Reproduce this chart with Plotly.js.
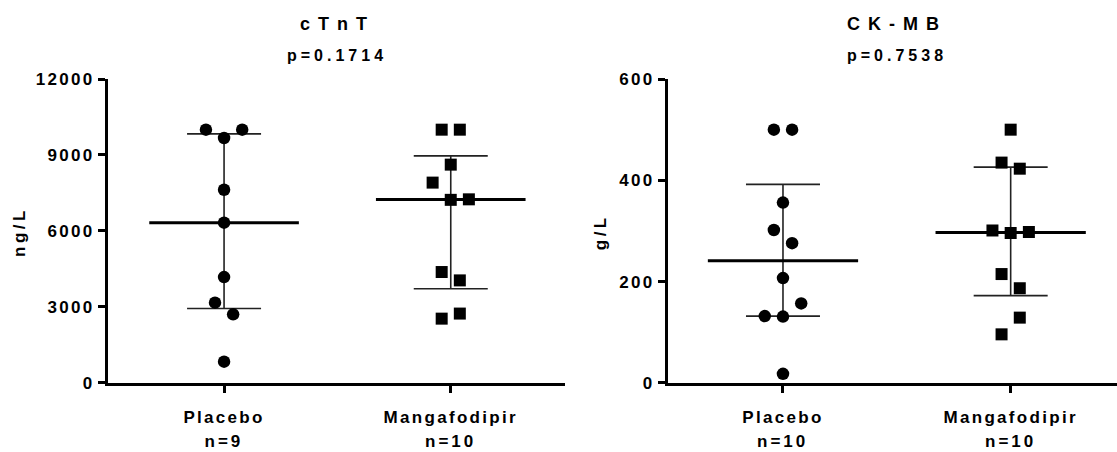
<!DOCTYPE html>
<html>
<head>
<meta charset="utf-8">
<script src="https://cdn.plot.ly/plotly-3.0.1.min.js"></script>
<style>
html,body{margin:0;padding:0;background:#fff;}
#chart{width:1117px;height:452px;}
#chart .xtick text, #chart .x2tick text, #chart .ytick text, #chart .y2tick text{letter-spacing:2.3px;}
</style>
</head>
<body>
<div id="chart"></div>
<script>
// ---- data ----
const categories = ['Placebo', 'Mangafodipir'];
const cTnT_n = ['n=9', 'n=10'];
const ckmb_n = ['n=10', 'n=10'];

const cTnT_placebo = [10000, 10000, 9670, 7630, 6330, 4180, 3170, 2710, 840];
const cTnT_placebo_jitter = [-1, 1, 0, 0, 0, 0, -0.5, 0.5, 0];
const cTnT_mangafodipir = [10000, 10000, 8620, 7910, 7230, 7250, 4380, 4050, 2740, 2540];
const cTnT_mangafodipir_jitter = [-0.5, 0.5, 0, -1, 0, 1, -0.5, 0.5, 0.5, -0.5];
const cTnT_median = [6330, 7240];
const cTnT_q1 = [2940, 3720];
const cTnT_q3 = [9835, 8965];

const ckmb_placebo = [500, 500, 356, 302, 276, 207, 157, 132, 131, 18];
const ckmb_placebo_jitter = [-0.5, 0.5, 0, -0.5, 0.5, 0, 1, -1, 0, 0];
const ckmb_mangafodipir = [500, 435, 423, 301, 296, 298, 215, 187, 129, 96];
const ckmb_mangafodipir_jitter = [0, -0.5, 0.5, -1, 0, 1, -0.5, 0.5, 0.5, -0.5];
const ckmb_median = [241.5, 297];
const ckmb_q1 = [132, 172.5];
const ckmb_q3 = [392, 426];

const titles = ['cTnT', 'CK-MB'];
const pvalues = ['p=0.1714', 'p=0.7538'];
const yTitles = ['ng/L', 'g/L'];

// ---- helpers ----
const SLOT = 0.08;      // jitter slot width in category units
const HALF_MED = 0.33;  // half width of median line
const FONT = 'Liberation Sans, Arial, sans-serif';

function panelTraces(xa, ya, placebo, pj, mang, mj, med, q1, q3) {
  const tr = [];
  tr.push({
    type: 'scatter', mode: 'markers', x: [0, 1], y: med, xaxis: xa, yaxis: ya,
    marker: {size: 1, color: 'rgba(0,0,0,0)'},
    error_y: {type: 'data', symmetric: false,
      array: med.map((m, i) => q3[i] - m),
      arrayminus: med.map((m, i) => m - q1[i]),
      width: 37, thickness: 1.6, color: '#222'},
    hoverinfo: 'skip', showlegend: false
  });
  const mx = [], my = [];
  med.forEach((m, i) => { mx.push(i - HALF_MED, i + HALF_MED, null); my.push(m, m, null); });
  tr.push({type: 'scatter', mode: 'lines', x: mx, y: my, xaxis: xa, yaxis: ya,
    line: {color: '#000', width: 3}, hoverinfo: 'skip', showlegend: false});
  tr.push({type: 'scatter', mode: 'markers', xaxis: xa, yaxis: ya,
    x: pj.map(j => 0 + j * SLOT), y: placebo,
    marker: {symbol: 'circle', size: 12.5, color: '#000'}, showlegend: false});
  tr.push({type: 'scatter', mode: 'markers', xaxis: xa, yaxis: ya,
    x: mj.map(j => 1 + j * SLOT), y: mang,
    marker: {symbol: 'square', size: 12, color: '#000'}, showlegend: false});
  return tr;
}

const data = [].concat(
  panelTraces('x', 'y', cTnT_placebo, cTnT_placebo_jitter, cTnT_mangafodipir, cTnT_mangafodipir_jitter, cTnT_median, cTnT_q1, cTnT_q3),
  panelTraces('x2', 'y2', ckmb_placebo, ckmb_placebo_jitter, ckmb_mangafodipir, ckmb_mangafodipir_jitter, ckmb_median, ckmb_q1, ckmb_q3)
);

const tickFont = {family: FONT, size: 17, color: '#000', weight: 'bold'};
const yDomain = [0.1527, 0.8252];

function xAxis(domain, range, anchor) {
  return {domain: domain, range: range, anchor: anchor,
    tickvals: [0, 1], ticktext: categories,
    showline: true, linewidth: 3, linecolor: '#000', ticks: 'outside', ticklen: 7, tickwidth: 3,
    tickcolor: '#000', showgrid: false, zeroline: false, tickfont: tickFont, fixedrange: true,
    ticklabelstandoff: 10};
}
function yAxis(range, dtick, anchor) {
  return {domain: yDomain, range: range, anchor: anchor, dtick: dtick, tick0: 0, tickformat: 'd',
    showline: true, linewidth: 3, linecolor: '#000', ticks: 'outside', ticklen: 7, tickwidth: 3,
    tickcolor: '#000', showgrid: false, zeroline: false, tickfont: tickFont, fixedrange: true};
}

const bold = (s) => ({family: FONT, size: s, color: '#000', weight: 'bold'});
const annotations = [];
const xrefs = ['x', 'x2'];
const nSets = [cTnT_n, ckmb_n];
[0, 1].forEach(p => {
  annotations.push({xref: xrefs[p], yref: 'paper', x: 0.5, y: 1 - 24 / 452, text: titles[p], showarrow: false, font: bold(18), xanchor: 'center', yanchor: 'middle', name: 'title'});
  annotations.push({xref: xrefs[p], yref: 'paper', x: 0.5, y: 1 - 55 / 452, text: pvalues[p], showarrow: false, font: bold(16), xanchor: 'center', yanchor: 'middle', name: 'p'});
  nSets[p].forEach((n, i) => {
    annotations.push({xref: xrefs[p], yref: 'paper', x: i, y: 1 - 441 / 452, text: n, showarrow: false, font: bold(17), xanchor: 'center', yanchor: 'middle', name: 'n'});
  });
});
annotations.push({xref: 'paper', yref: 'paper', x: 19 / 1117, y: 1 - 232 / 452, text: yTitles[0], textangle: -90, showarrow: false, font: bold(17), xanchor: 'center', yanchor: 'middle', name: 'ytitle'});
annotations.push({xref: 'paper', yref: 'paper', x: 600 / 1117, y: 1 - 232 / 452, text: yTitles[1], textangle: -90, showarrow: false, font: bold(17), xanchor: 'center', yanchor: 'middle', name: 'ytitle'});

const layout = {
  width: 1117, height: 452,
  margin: {l: 0, r: 0, t: 0, b: 0},
  paper_bgcolor: '#fff', plot_bgcolor: '#fff',
  showlegend: false,
  xaxis: xAxis([108 / 1117, 565 / 1117], [-0.512, 1.504], 'y'),
  yaxis: yAxis([0, 12000], 3000, 'x'),
  xaxis2: xAxis([668 / 1117, 1], [-0.505, 1.467], 'y2'),
  yaxis2: yAxis([0, 600], 200, 'x2'),
  annotations: annotations
};

const spacing = {title: '8px', p: '4px', n: '3px', ytitle: '3.5px'};
Plotly.newPlot('chart', data, layout, {displayModeBar: false, staticPlot: true}).then(gd => {
  const texts = gd.querySelectorAll('.annotation-text');
  texts.forEach((t, i) => {
    const a = annotations[i];
    if (a && spacing[a.name]) t.style.letterSpacing = spacing[a.name];
  });
});
</script>
</body>
</html>
